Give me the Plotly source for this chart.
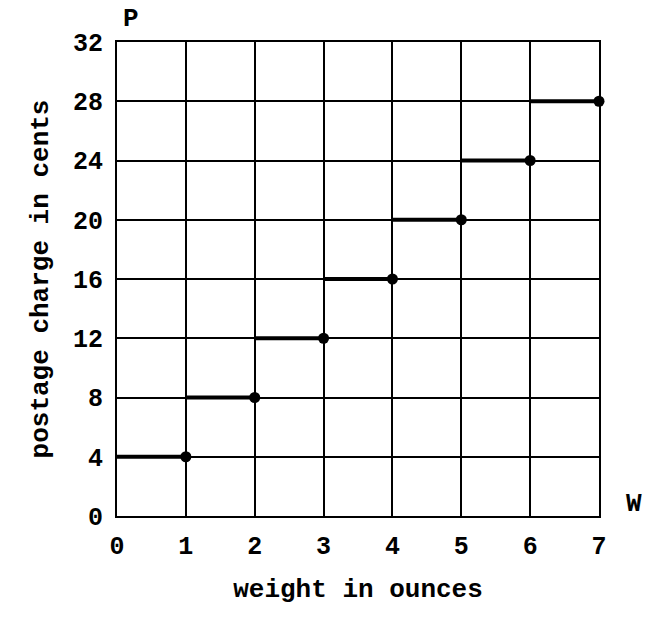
import plotly.graph_objects as go

# Postage step function: each ounce (or fraction) costs another 4 cents
weight_start = [0, 1, 2, 3, 4, 5, 6]
weight_end = [1, 2, 3, 4, 5, 6, 7]
charge = [4, 8, 12, 16, 20, 24, 28]

x_ticks = [0, 1, 2, 3, 4, 5, 6, 7]
y_ticks = [0, 4, 8, 12, 16, 20, 24, 28, 32]

TICK_FONT = dict(family="Liberation Mono", size=25, color="black", weight="bold")
TITLE_FONT = dict(family="Liberation Mono", size=26, color="black", weight="bold")

# horizontal steps, separated by gaps
seg_x, seg_y = [], []
for a, b, p in zip(weight_start, weight_end, charge):
    seg_x += [a, b, None]
    seg_y += [p, p, None]

fig = go.Figure()
fig.add_trace(go.Scatter(
    x=seg_x, y=seg_y, mode="lines",
    line=dict(color="black", width=4),
    hoverinfo="skip", cliponaxis=False,
))
# closed endpoint at the right end of each step
fig.add_trace(go.Scatter(
    x=weight_end, y=charge, mode="markers",
    marker=dict(color="black", size=11),
    cliponaxis=False,
))

axis_common = dict(
    showgrid=True, gridcolor="black", gridwidth=2,
    showline=True, linecolor="black", linewidth=2, mirror=True,
    zeroline=False, ticks="", tickfont=TICK_FONT, fixedrange=True,
)

fig.update_layout(
    width=647, height=619,
    margin=dict(l=117, r=48, t=42, b=103),
    paper_bgcolor="white", plot_bgcolor="white",
    showlegend=False,
    xaxis=dict(range=[0, 7], tickvals=x_ticks, ticklabelstandoff=6,
               title=dict(text="weight in ounces", font=TITLE_FONT, standoff=18),
               **axis_common),
    yaxis=dict(range=[0, 32], tickvals=y_ticks, ticklabelstandoff=7,
               title=dict(text="postage charge in cents", font=TITLE_FONT, standoff=17),
               **axis_common),
    annotations=[
        dict(text="P", x=0, y=32, xref="x", yref="y", xanchor="center",
             yanchor="middle", xshift=14, yshift=23, showarrow=False, font=TITLE_FONT),
        dict(text="W", x=7, y=0, xref="x", yref="y", xanchor="center",
             yanchor="middle", xshift=35, yshift=12, showarrow=False, font=TITLE_FONT),
    ],
)

fig.write_html("out.html")
